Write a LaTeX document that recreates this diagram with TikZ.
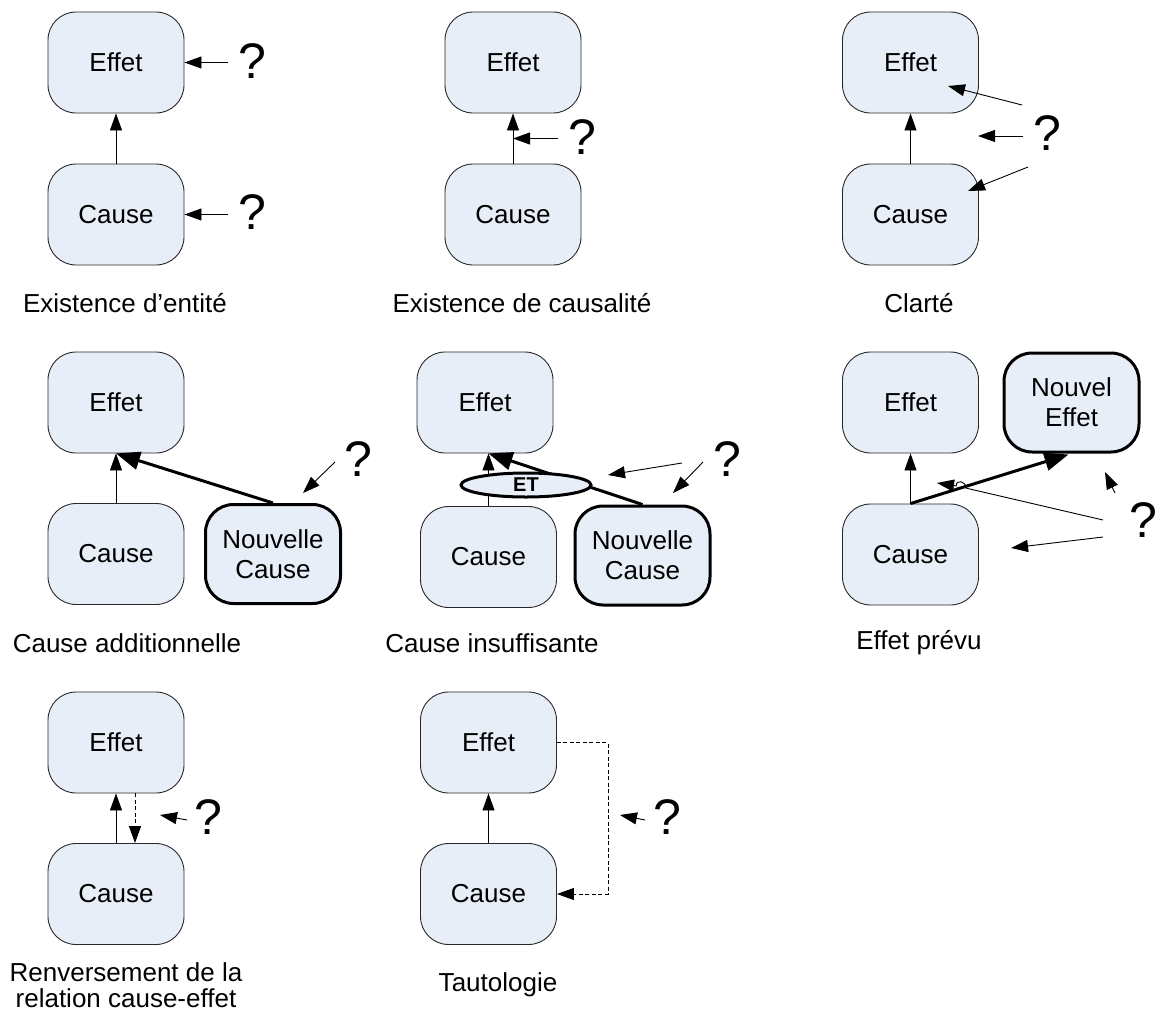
\documentclass[tikz,border=0pt]{standalone}
\usepackage{fontspec}
\setmainfont{Liberation Sans}
\usetikzlibrary{arrows.meta,shapes.geometric,calc}
\definecolor{boxfill}{RGB}{232,238,248}
\definecolor{boxline}{RGB}{40,40,40}
\begin{document}
\begin{tikzpicture}[x=1pt,y=-1pt,
  box/.style={draw=boxline,fill=boxfill,rounded corners=28pt,minimum width=136pt,minimum height=101pt,line width=0.9pt,inner sep=0pt,align=center,font=\fontsize{26}{30}\selectfont},
  newbox/.style={box,draw=black,line width=3pt,minimum width=135pt,minimum height=99pt},
  qm/.style={inner sep=0pt,font=\fontsize{50}{50}\selectfont},
  lab/.style={inner sep=0pt,align=center,font=\fontsize{26}{26}\selectfont},
  arr/.style={line width=0.9pt,-{Triangle[length=17pt,width=12pt]}},
  thickarr/.style={line width=3pt,-{Triangle[length=24pt,width=18pt]}},
  dasharr/.style={arr,dash pattern=on 4pt off 2.5pt},
  etnode/.style={ellipse,draw=black,line width=3pt,fill=boxfill,minimum width=130pt,minimum height=24pt,inner sep=0pt,font=\bfseries\fontsize{20}{20}\selectfont}
]
\useasboundingbox (0,0) rectangle (1157,1012);

% ---------- Panel 1: Existence d'entite
\node[box] (E1) at (116,62.5) {Effet};
\node[box] (C1) at (116,214.5) {Cause};
\draw[arr] (C1) -- (E1);
\node[qm] (Q1a) at (252,61) {?};
\node[qm] (Q1b) at (252,212) {?};
\coordinate (a1) at (228,62.5);
\coordinate (b1) at (228,214.5);
\draw[arr] (a1) -- (E1.east);
\draw[arr] (b1) -- (C1.east);
\node[lab] (L1) at (125,303) {Existence d’entité};

% ---------- Panel 2: Existence de causalite
\node[box] (E2) at (513,62.5) {Effet};
\node[box] (C2) at (513,214.5) {Cause};
\draw[arr] (C2) -- (E2);
\coordinate (m2) at ($(C2.north)!0.5!(E2.south)$);
\coordinate (a2) at (558,138.5);
\draw[arr] (a2) -- (m2);
\node[qm] (Q2) at (582,137.5) {?};
\node[lab] (L2) at (522,303) {Existence de causalité};

% ---------- Panel 3: Clarte
\node[box] (E3) at (910.5,62.5) {Effet};
\node[box] (C3) at (910.5,214.5) {Cause};
\draw[arr] (C3) -- (E3);
\node[qm] (Q3) at (1047,133) {?};
\coordinate (a3s) at (1022,105);
\coordinate (a3e) at (948,86);
\coordinate (b3s) at (1023,136);
\coordinate (b3e) at (978,136);
\coordinate (c3s) at (1028,167);
\coordinate (c3e) at (968,191);
\draw[arr] (a3s) -- (a3e);
\draw[arr] (b3s) -- (b3e);
\draw[arr] (c3s) -- (c3e);
\node[lab] (L3) at (919,303) {Clarté};

% ---------- Panel 4: Cause additionnelle
\node[box] (E4) at (116,402.5) {Effet};
\node[box] (C4) at (116,554) {Cause};
\node[newbox] (N4) at (273,554) {Nouvelle\\Cause};
\draw[arr] (C4) -- (E4);
\draw[thickarr] (N4.north) -- (E4.south);
\node[qm] (Q4) at (358,459) {?};
\coordinate (a4s) at (335,462);
\coordinate (a4e) at (303,493);
\draw[arr] (a4s) -- (a4e);
\node[lab] (L4) at (127,643) {Cause additionnelle};

% ---------- Panel 5: Cause insuffisante
\node[box] (E5) at (485,402.5) {Effet};
\node[box] (C5) at (488.5,557) {Cause};
\node[newbox] (N5) at (642.5,555.5) {Nouvelle\\Cause};
\coordinate (t5) at (C5.north |- E5.south);
\draw[arr] (C5.north) -- (t5);
\draw[thickarr] (N5.north) -- (t5);
\node[etnode] (ET5) at (526,485) {ET};
\node[qm] (Q5) at (727,459) {?};
\coordinate (a5s) at (682,463);
\coordinate (a5e) at (608,475);
\coordinate (b5s) at (703,462);
\coordinate (b5e) at (673,493);
\draw[arr] (a5s) -- (a5e);
\draw[arr] (b5s) -- (b5e);
\node[lab] (L5) at (492,643) {Cause insuffisante};

% ---------- Panel 6: Effet prevu
\node[box] (E6) at (910.5,402.5) {Effet};
\node[newbox] (N6) at (1071.5,402.5) {Nouvel\\Effet};
\node[box] (C6) at (910.5,554.5) {Cause};
\draw[arr] (C6) -- (E6);
\draw[thickarr] (C6.north) -- ($(N6.south)+(-3,1)$);
\node[qm] (Q6) at (1143,520) {?};
\coordinate (a6s) at (1115,493);
\coordinate (a6e) at (1105,472);
\draw[arr] (a6s) -- (a6e);
\coordinate (b6s) at (1103,520);
\coordinate (h1) at (966,488.1);
\coordinate (h2) at (956.2,485.9);
\coordinate (b6e) at (937,483);
\draw[arr] (b6s) -- (h1) .. controls ($(h1)+(0,-7)$) and ($(h2)+(0,-7)$) .. (h2) -- (b6e);
\coordinate (c6s) at (1103,537);
\coordinate (c6e) at (1011,548);
\draw[arr] (c6s) -- (c6e);
\node[lab] (L6) at (919,643) {Effet prévu};

% ---------- Panel 7: Renversement
\node[box] (E7) at (116,742.5) {Effet};
\node[box] (C7) at (116,894) {Cause};
\draw[arr] (C7) -- (E7);
\draw[dasharr] ($(E7.south)+(19,0)$) -- ($(C7.north)+(19,0)$);
\node[qm] (Q7) at (208,817.5) {?};
\coordinate (a7s) at (187,820);
\coordinate (a7e) at (160,815);
\draw[arr] (a7s) -- (a7e);
\node[lab] (L7) at (126,985) {Renversement de la\\relation cause-effet};

% ---------- Panel 8: Tautologie
\node[box] (E8) at (488.5,742.5) {Effet};
\node[box] (C8) at (488.5,894) {Cause};
\draw[arr] (C8) -- (E8);
\draw[dasharr] (E8.east) -- ++(51,0) |- (C8.east);
\node[qm] (Q8) at (667,817.5) {?};
\coordinate (a8s) at (645,820);
\coordinate (a8e) at (620,815);
\draw[arr] (a8s) -- (a8e);
\node[lab] (L8) at (498,985) {Tautologie};
\end{tikzpicture}
\end{document}
